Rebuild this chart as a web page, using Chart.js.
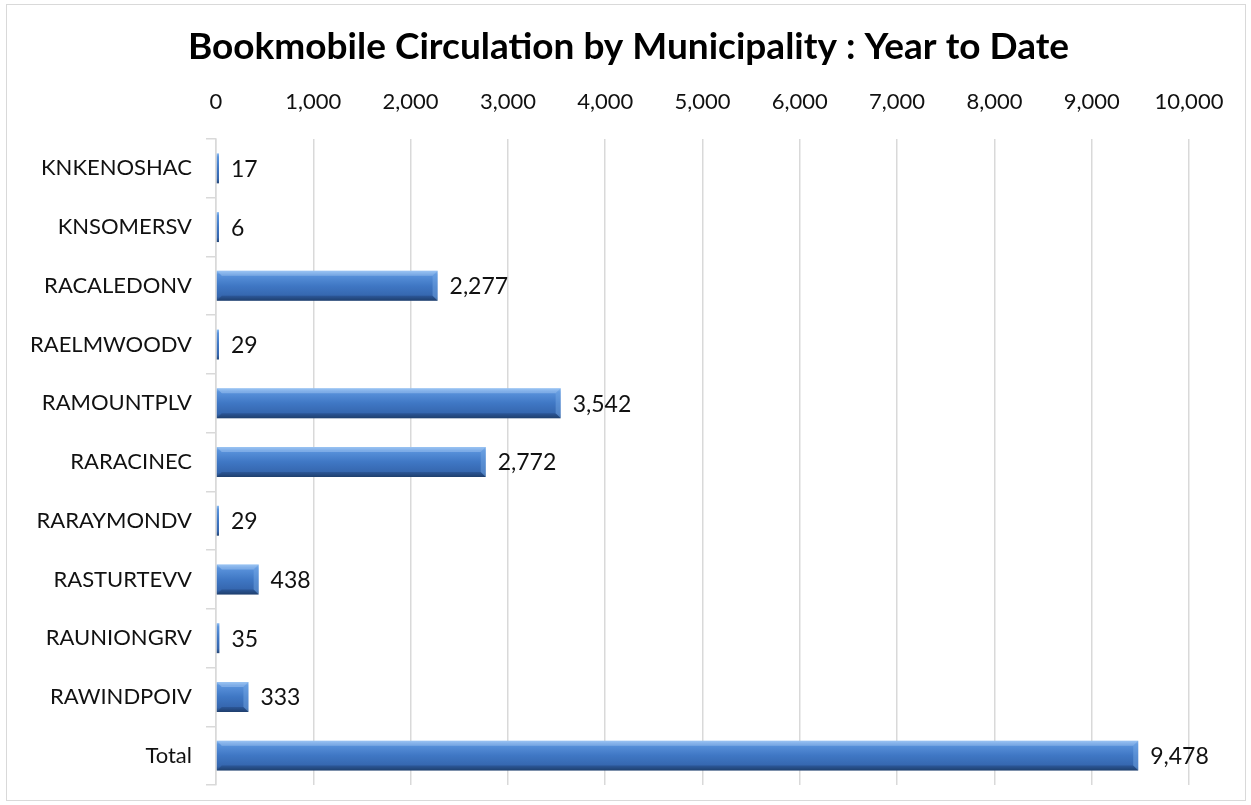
<!DOCTYPE html>
<html>
<head>
<meta charset="utf-8">
<script src="https://cdn.jsdelivr.net/npm/chart.js@4.4.1/dist/chart.umd.min.js"></script>
<style>
  html, body { margin: 0; padding: 0; background: #fff; }
  #wrap { position: absolute; left: 0; top: 0; width: 1251px; height: 805px; }
  #frame { position: absolute; left: 6px; top: 4px; width: 1238px; height: 795px;
           border: 1px solid #d9d9d9; pointer-events: none; }
</style>
</head>
<body>
<div id="wrap"><canvas id="circChart" width="1251" height="805"></canvas></div>
<div id="frame"></div>
<script>
// data
const municipalities = ['KNKENOSHAC', 'KNSOMERSV', 'RACALEDONV', 'RAELMWOODV', 'RAMOUNTPLV',
  'RARACINEC', 'RARAYMONDV', 'RASTURTEVV', 'RAUNIONGRV', 'RAWINDPOIV', 'Total'];
const circulation = [17, 6, 2277, 29, 3542, 2772, 29, 438, 35, 333, 9478];
const axisMax = 10000;
const axisStep = 1000;
const chartTitle = 'Bookmobile Circulation by Municipality : Year to Date';

const FONT = 'Lato, "Open Sans", sans-serif';
const BAR_PCT = 0.51;

// vertical gradient for each bar, like the office "bevel" look
function barFill(ctx) {
  const chart = ctx.chart;
  const y = chart.scales.y;
  if (!y || !chart.chartArea) return '#3d73c0';
  const c = y.getPixelForValue(ctx.dataIndex);
  const half = (y.height / municipalities.length) * BAR_PCT / 2;
  const g = chart.ctx.createLinearGradient(0, c - half, 0, c + half);
  g.addColorStop(0, '#8dbdf2');
  g.addColorStop(0.12, '#5a93dc');
  g.addColorStop(0.5, '#3f77c4');
  g.addColorStop(0.85, '#3566ae');
  g.addColorStop(1, '#244777');
  return g;
}

const bevelAndLabels = {
  id: 'bevelAndLabels',
  afterDatasetsDraw(chart) {
    const c = chart.ctx;
    const meta = chart.getDatasetMeta(0);
    c.save();
    meta.data.forEach((bar, i) => {
      const left = bar.base, right = bar.x;
      const top = bar.y - bar.height / 2, bottom = bar.y + bar.height / 2;
      const w = right - left;
      if (w > 12) {
        const b = Math.min(5, bar.height / 5);
        // right end bevel
        c.fillStyle = 'rgba(120,170,230,0.45)';
        c.beginPath();
        c.moveTo(right, top); c.lineTo(right - b, top + b); c.lineTo(right - b, bottom - b); c.lineTo(right, bottom);
        c.closePath(); c.fill();
        c.fillStyle = 'rgba(20,45,90,0.3)';
        c.beginPath();
        c.moveTo(right, bottom); c.lineTo(right - b, bottom - b); c.lineTo(left + b, bottom - b); c.lineTo(left, bottom);
        c.closePath(); c.fill();
        c.fillStyle = 'rgba(170,205,245,0.45)';
        c.beginPath();
        c.moveTo(left, top); c.lineTo(right, top); c.lineTo(right - b, top + b); c.lineTo(left + b, top + b);
        c.closePath(); c.fill();
      }
      // value label
      c.fillStyle = '#111';
      c.font = '23px ' + FONT;
      c.textAlign = 'left';
      c.textBaseline = 'middle';
      c.fillText(circulation[i].toLocaleString('en-US'), right + 12, bar.y + 1);
    });
    c.restore();
  },
  // title centred on the whole canvas, not on the padded box
  afterDraw(chart) {
    const c = chart.ctx;
    c.save();
    c.fillStyle = '#000';
    c.font = 'bold 37px ' + FONT;
    c.textAlign = 'center';
    c.textBaseline = 'middle';
    c.fillText(chartTitle, chart.width / 2 + 3, 47);
    c.restore();
  }
};

new Chart(document.getElementById('circChart'), {
  type: 'bar',
  data: {
    labels: municipalities,
    datasets: [{
      data: circulation,
      backgroundColor: barFill,
      borderWidth: 0,
      barPercentage: BAR_PCT,
      categoryPercentage: 1,
      minBarLength: 3
    }]
  },
  options: {
    indexAxis: 'y',
    responsive: false,
    animation: false,
    layout: { padding: { left: 0, right: 62, top: 74, bottom: 20 } },
    plugins: {
      legend: { display: false },
      tooltip: { enabled: false },
      title: { display: false }
    },
    scales: {
      x: {
        position: 'top',
        min: 0,
        max: axisMax,
        ticks: {
          stepSize: axisStep,
          color: '#111',
          font: { family: FONT, size: 22 },
          padding: 24,
          callback: v => v.toLocaleString('en-US')
        },
        grid: { color: '#d9d9d9', lineWidth: 1.5, drawTicks: false },
        border: { display: false },
        afterFit: s => { s.height = 65; }
      },
      y: {
        ticks: {
          color: '#111',
          font: { family: FONT, size: 22 },
          padding: 14
        },
        grid: {
          offset: true,
          drawOnChartArea: false,
          tickLength: 10,
          color: '#d9d9d9',
          lineWidth: 1.5
        },
        border: { display: true, color: '#d9d9d9', width: 1.5 },
        afterFit: s => { s.width = 216; s.paddingTop = 0; s.paddingBottom = 0; }
      }
    }
  },
  plugins: [bevelAndLabels]
});
</script>
</body>
</html>
